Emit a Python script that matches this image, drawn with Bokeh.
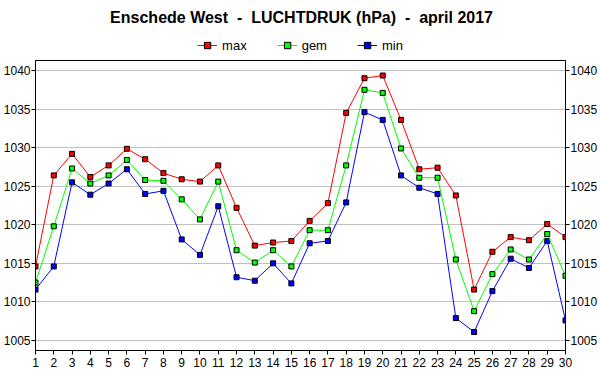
from bokeh.plotting import figure
from bokeh.layouts import column
from bokeh.models import Range1d, LinearAxis, FixedTicker, Legend, LegendItem, Label
from bokeh.embed import file_html
from bokeh.resources import INLINE

days = list(range(1, 31))
max_p = [1014.6, 1026.4, 1029.2, 1026.2, 1027.7, 1029.85, 1028.5, 1026.7, 1025.9, 1025.6,
         1027.7, 1022.2, 1017.3, 1017.7, 1017.9, 1020.5, 1022.8, 1034.5, 1039.0, 1039.35,
         1033.6, 1027.2, 1027.4, 1023.8, 1011.6, 1016.5, 1018.4, 1018.0, 1020.1, 1018.4]
gem_p = [1012.5, 1019.8, 1027.3, 1025.35, 1026.4, 1028.4, 1025.8, 1025.7, 1023.3, 1020.7,
         1025.6, 1016.7, 1015.1, 1016.7, 1014.6, 1019.3, 1019.3, 1027.7, 1037.5, 1037.1,
         1029.9, 1026.1, 1026.1, 1015.5, 1008.8, 1013.6, 1016.8, 1015.5, 1018.8, 1013.4]
min_p = [1011.6, 1014.6, 1025.5, 1023.9, 1025.35, 1027.2, 1024.0, 1024.4, 1018.1, 1016.1,
         1022.4, 1013.2, 1012.75, 1015.0, 1012.4, 1017.6, 1017.9, 1022.9, 1034.6, 1033.6,
         1026.4, 1024.8, 1024.0, 1007.9, 1006.1, 1011.4, 1015.6, 1014.4, 1017.9, 1007.6]
y_ticks = [1005, 1010, 1015, 1020, 1025, 1030, 1035, 1040]
title_text = "Enschede West \u00a0-\u00a0 LUCHTDRUK (hPa) \u00a0-\u00a0 april 2017"
series = [("max", max_p, "#ff0000"), ("gem", gem_p, "#00ff00"), ("min", min_p, "#0000ff")]

FONT = "Liberation Sans"

# ---- header figure: title + legend (its ranges lie away from the data) ----
HW, HH = 600, 59
h = figure(width=HW, height=HH, output_backend="svg", toolbar_location=None, title=None,
           x_range=Range1d(0, 1), y_range=Range1d(0, 1),
           min_border_left=0, min_border_right=0, min_border_top=0, min_border_bottom=0)
h.axis.visible = False
h.grid.visible = False
h.outline_line_color = None
h.background_fill_color = "white"
h.border_fill_color = "white"
h.add_layout(Label(x=0.502, y=HH - 17, x_units="data", y_units="screen",
                   text=title_text, text_align="center", text_baseline="alphabetic",
                   text_font=FONT, text_font_size="16px", text_font_style="bold",
                   text_color="black"))

items = []
for name, vals, col in series:
    hl = h.line(days, vals, line_color=col, line_width=1)
    hs = h.scatter(days, vals, marker="square", size=5, fill_color=col, line_color="black", line_width=1)
    items.append(LegendItem(label=name, renderers=[hl, hs]))
legend = Legend(items=items, orientation="horizontal", location="bottom_center",
                border_line_color=None, background_fill_alpha=0,
                label_text_font=FONT, label_text_font_size="13px", label_text_color="black",
                glyph_width=20, glyph_height=16, spacing=30, padding=0, margin=6,
                label_standoff=5)
h.add_layout(legend, "center")

# ---- main chart ----
p = figure(width=600, height=331, output_backend="svg", toolbar_location=None, title=None,
           x_range=Range1d(1, 30), y_range=Range1d(1003.7, 1041.3),
           min_border_left=35, min_border_right=35, min_border_top=1, min_border_bottom=40)
p.background_fill_color = "white"
p.border_fill_color = "white"
p.outline_line_color = "black"
p.outline_line_width = 1

p.add_layout(LinearAxis(), "right")

p.xgrid.visible = False
p.ygrid.grid_line_color = "#c0c0c0"
p.ygrid.ticker = FixedTicker(ticks=y_ticks)

p.xaxis.ticker = FixedTicker(ticks=days)
p.yaxis.ticker = FixedTicker(ticks=y_ticks)
for ax in list(p.xaxis) + list(p.yaxis):
    ax.axis_line_color = "black"
    ax.major_tick_line_color = "black"
    ax.major_tick_out = 4
    ax.major_tick_in = 0
    ax.minor_tick_line_color = None
    ax.major_label_text_font = FONT
    ax.major_label_text_font_size = "12px"
    ax.major_label_text_color = "black"
for ax in p.yaxis:
    ax.major_label_standoff = 1
for ax in p.xaxis:
    ax.major_label_standoff = 3

for name, vals, col in reversed(series):
    p.line(days, vals, line_color=col, line_width=1)
    p.scatter(days, vals, marker="square", size=5, fill_color=col, line_color="black", line_width=1)

layout = column(h, p, spacing=0)
open("out.html", "w").write(file_html(layout, INLINE))
